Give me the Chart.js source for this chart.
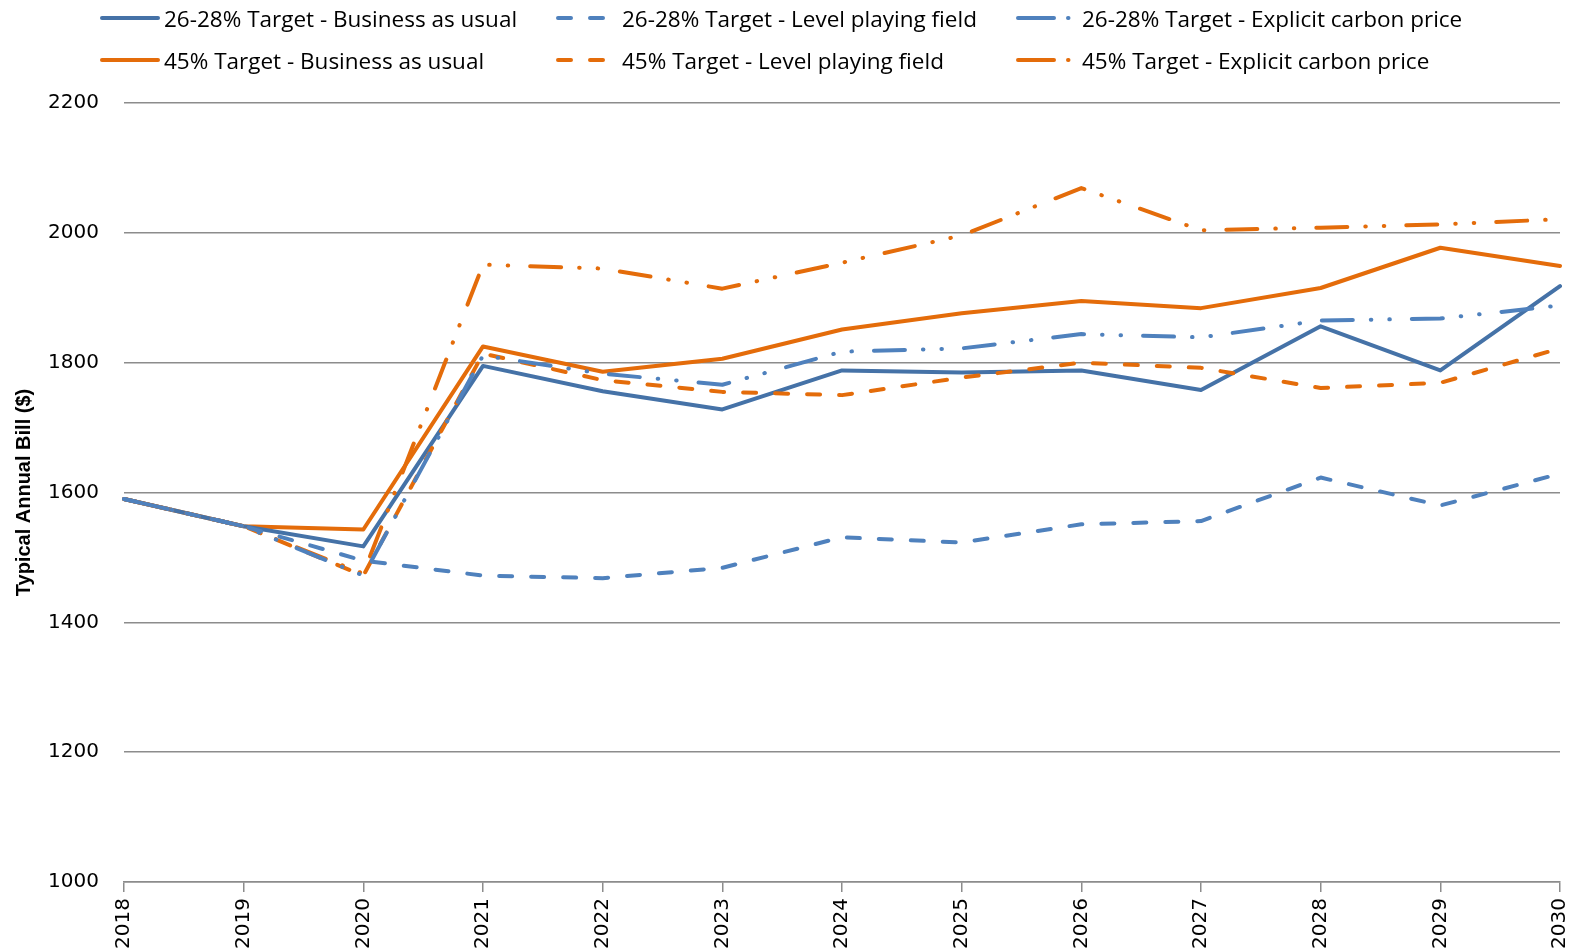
<!DOCTYPE html>
<html>
<head>
<meta charset="utf-8">
<script src="https://cdn.jsdelivr.net/npm/chart.js@4.4.1/dist/chart.umd.min.js"></script>
<style>
  body { margin: 0; background: #fff; }
  #wrap { position: relative; width: 1583px; height: 948px; }
  #chartId { position: absolute; left: 0; top: 0; }
  .leg { position: absolute; display: flex; align-items: center; font-family: "Open Sans", sans-serif; font-size: 22.5px; color: #000; white-space: nowrap; }
  .leg svg { margin-right: 4px; }
</style>
</head>
<body>
<div id="wrap">
  <canvas id="chartId" width="1583" height="948"></canvas>
  <div id="legend"></div>
</div>
<script>
const years = ['2018','2019','2020','2021','2022','2023','2024','2025','2026','2027','2028','2029','2030'];

const bau2628 = [1590, 1548, 1517, 1795, 1756, 1728, 1788, 1785, 1788, 1758, 1856, 1788, 1918];
const lpf2628 = [1590, 1548, 1495, 1472, 1468, 1484, 1531, 1523, 1551, 1556, 1623, 1580, 1629];
const ecp2628 = [1590, 1548, 1472, 1811, 1783, 1766, 1817, 1822, 1844, 1839, 1865, 1868, 1888];
const bau45 = [1590, 1548, 1543, 1825, 1786, 1806, 1851, 1876, 1895, 1884, 1915, 1977, 1949];
const lpf45 = [1590, 1548, 1472, 1814, 1773, 1755, 1750, 1777, 1800, 1792, 1761, 1769, 1822];
const ecp45 = [1590, 1548, 1475, 1951, 1945, 1914, 1954, 1996, 2069, 2004, 2008, 2013, 2021];

const yTicks = [1000, 1200, 1400, 1600, 1800, 2000, 2200];

const seriesNames = [
  '26-28% Target - Business as usual',
  '26-28% Target - Level playing field',
  '26-28% Target - Explicit carbon price',
  '45% Target - Business as usual',
  '45% Target - Level playing field',
  '45% Target - Explicit carbon price'
];

var darkBlue = '#4572A7';
var lightBlue = '#4F81BD';
var orange = '#E46C0A';
var dashed = [13, 19];
var dashDot = [31, 18, 0.5, 18, 0.5, 22];

function ds(label, data, color, dash) {
  return {
    label: label,
    data: data,
    borderColor: color,
    backgroundColor: color,
    borderWidth: 4,
    borderDash: dash,
    borderCapStyle: 'round',
    borderJoinStyle: 'round',
    pointRadius: 0,
    tension: 0,
    fill: false
  };
}

var chrt = document.getElementById('chartId').getContext('2d');
new Chart(chrt, {
  type: 'line',
  data: {
    labels: years,
    datasets: [
      ds(seriesNames[1], lpf2628, lightBlue, dashed),
      ds(seriesNames[2], ecp2628, lightBlue, dashDot),
      ds(seriesNames[4], lpf45, orange, dashed),
      ds(seriesNames[5], ecp45, orange, dashDot),
      ds(seriesNames[0], bau2628, darkBlue, []),
      ds(seriesNames[3], bau45, orange, [])
    ]
  },
  options: {
    responsive: false,
    animation: false,
    layout: { padding: { top: 103, right: 23, left: 0, bottom: 0 } },
    plugins: { legend: { display: false }, tooltip: { enabled: false } },
    scales: {
      x: {
        offset: false,
        afterFit: function (s) { s.height = 66; s.paddingRight = 0; s.paddingLeft = 0; },
        grid: { drawOnChartArea: false, drawTicks: true, tickLength: 10, color: '#8c8c8c', lineWidth: 1.5 },
        border: { display: true, color: '#8c8c8c', width: 1.5 },
        ticks: {
          maxRotation: 90, minRotation: 90, padding: 6, autoSkip: false,
          color: '#000', font: { family: 'DejaVu Sans', size: 20 }
        }
      },
      y: {
        min: 1000, max: 2200,
        afterFit: function (s) { s.width = 124; },
        afterBuildTicks: function (s) { s.ticks = yTicks.map(v => ({ value: v })); },
        grid: { drawTicks: false, color: '#8c8c8c', lineWidth: 1.5 },
        border: { display: false },
        ticks: {
          padding: 25, color: '#000', font: { family: 'DejaVu Sans', size: 20 },
          callback: function (v) { return String(v); }
        },
        title: {
          display: true,
          text: 'Typical Annual Bill ($)',
          color: '#000',
          padding: { top: 12, bottom: 0 },
          font: { family: '"Liberation Sans Narrow", "Liberation Sans", sans-serif', size: 20, weight: 'bold' }
        }
      }
    }
  }
});

// legend, built as html so the three columns line up like the original
var legendItems = [
  { name: seriesNames[0], color: darkBlue, dash: '', x: 100, y: 18, w: 60 },
  { name: seriesNames[1], color: lightBlue, dash: '13 19', x: 556, y: 18, w: 62 },
  { name: seriesNames[2], color: lightBlue, dash: '36 14 0.5 20', x: 1016, y: 18, w: 62 },
  { name: seriesNames[3], color: orange, dash: '', x: 100, y: 60, w: 60 },
  { name: seriesNames[4], color: orange, dash: '13 19', x: 556, y: 60, w: 62 },
  { name: seriesNames[5], color: orange, dash: '36 14 0.5 20', x: 1016, y: 60, w: 62 }
];
var temp = '';
legendItems.forEach((it) => {
  temp += '<div class="leg" style="left:' + it.x + 'px;top:' + (it.y - 16) + 'px;height:32px">';
  temp += '<svg width="' + it.w + '" height="10"><line x1="2" y1="5" x2="' + (it.w - 2) + '" y2="5" stroke="' + it.color +
    '" stroke-width="4" stroke-linecap="round"' + (it.dash ? ' stroke-dasharray="' + it.dash + '"' : '') + '/></svg>';
  temp += '<span>' + it.name + '</span></div>';
});
document.getElementById('legend').innerHTML = temp;
</script>
</body>
</html>
